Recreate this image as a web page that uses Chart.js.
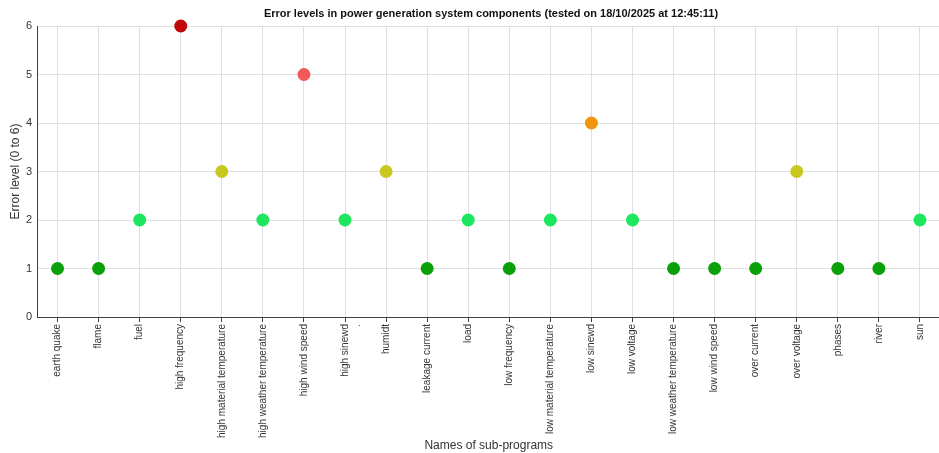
<!DOCTYPE html>
<html>
<head>
<meta charset="utf-8">
<script src="https://cdn.jsdelivr.net/npm/chart.js@4.4.1/dist/chart.umd.min.js"></script>
<style>
    html, body { margin: 0; padding: 0; background: #fff; overflow: hidden; }
    #wrap { width: 947px; height: 453px; }
</style>
</head>
<body>
<div id="wrap"><canvas id="errorChart" width="947" height="453"></canvas></div>
<script>
// sub-program names and their error levels
const subPrograms = [
    'earth quake', 'flame', 'fuel', 'high frequency', 'high material temperature',
    'high weather temperature', 'high wind speed', ['high sinewd', '.'], 'humidt',
    'leakage current', 'load', 'low frequency', 'low material temperature', 'low sinewd',
    'low voltage', 'low weather temperature', 'low wind speed', 'over current',
    'over voltage', 'phases', 'river', 'sun'
];
const errorLevels = [1, 1, 2, 6, 3, 2, 5, 2, 3, 1, 2, 1, 2, 4, 2, 1, 1, 1, 3, 1, 1, 2];
const yTicks = [0, 1, 2, 3, 4, 5, 6];

const chartTitle = 'Error levels in power generation system components (tested on 18/10/2025 at 12:45:11)';

// colour per error level
const levelColors = {
    0: '#0aa00a',
    1: '#0aa00a',
    2: '#1ee65f',
    3: '#c8c81e',
    4: '#f0960f',
    5: '#f25a5a',
    6: '#c00808'
};

const FONT = "'Liberation Sans', Arial, sans-serif";

// title drawn centred over the plot area
const titlePlugin = {
    id: 'plotTitle',
    afterDraw(chart) {
        const ctx = chart.ctx;
        const area = chart.chartArea;
        ctx.save();
        ctx.font = `bold 11px ${FONT}`;
        ctx.fillStyle = '#111';
        ctx.textAlign = 'center';
        ctx.textBaseline = 'middle';
        ctx.fillText(chartTitle, (area.left + 945) / 2, 14);
        ctx.restore();
    }
};

new Chart(document.getElementById('errorChart'), {
    type: 'line',
    data: {
        labels: subPrograms,
        datasets: [{
            label: 'Error level',
            data: errorLevels,
            showLine: false,
            clip: false,
            pointRadius: 6.5,
            pointHoverRadius: 6.5,
            pointBorderWidth: 0,
            pointBackgroundColor: errorLevels.map(v => levelColors[v]),
            pointBorderColor: errorLevels.map(v => levelColors[v])
        }]
    },
    options: {
        responsive: false,
        animation: false,
        layout: { padding: { top: 26, right: 0, left: 0, bottom: 0 } },
        plugins: {
            legend: { display: false },
            tooltip: { enabled: false }
        },
        scales: {
            x: {
                offset: true,
                grid: {
                    offset: false,
                    color: '#e0e0e0',
                    tickColor: '#404040',
                    tickLength: 5
                },
                border: { color: '#404040', width: 1 },
                ticks: {
                    autoSkip: false,
                    maxRotation: 90,
                    minRotation: 90,
                    padding: 2,
                    color: '#333',
                    font: { family: FONT, size: 10 }
                },
                title: {
                    display: true,
                    text: 'Names of sub-programs',
                    color: '#333',
                    font: { family: FONT, size: 12 },
                    padding: { top: 0, bottom: 0 }
                },
                afterFit(scale) { scale.height = 136; }
            },
            y: {
                min: 0,
                max: 6,
                afterBuildTicks(scale) { scale.ticks = yTicks.map(v => ({ value: v })); },
                grid: {
                    color: '#e0e0e0',
                    drawTicks: false
                },
                border: { color: '#404040', width: 1 },
                ticks: {
                    padding: 5,
                    color: '#333',
                    font: { family: FONT, size: 11 }
                },
                title: {
                    display: true,
                    text: 'Error level (0 to 6)',
                    color: '#333',
                    font: { family: FONT, size: 12 },
                    padding: { top: 8, bottom: 0 }
                },
                afterFit(scale) { scale.width = 37; }
            }
        }
    },
    plugins: [titlePlugin]
});
</script>
</body>
</html>
